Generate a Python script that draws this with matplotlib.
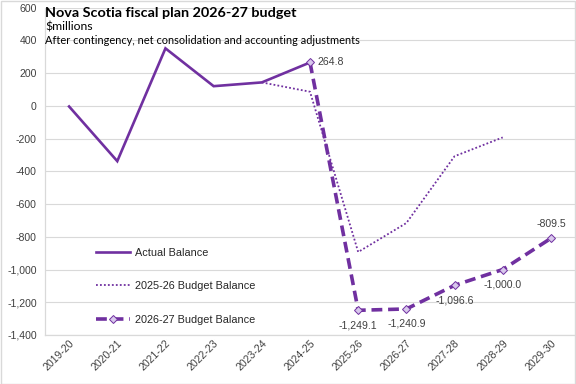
import numpy as np
import matplotlib
matplotlib.use("Agg")
import matplotlib.pyplot as plt
from matplotlib.patches import Rectangle

years = ["2019-20", "2020-21", "2021-22", "2022-23", "2023-24", "2024-25",
         "2025-26", "2026-27", "2027-28", "2028-29", "2029-30"]
actual = [-4, -338, 351, 120, 143, 264.8, None, None, None, None, None]
budget_2526 = [None, None, None, None, 143, 86, -893, -716, -308, -193, None]
budget_2627 = [None, None, None, None, None, 264.8, -1249.1, -1240.9, -1096.6, -1000.0, -809.5]

def arr(v):
    return np.array([np.nan if x is None else x for x in v], dtype=float)

PURPLE = "#7030A0"
GRID = "#d9d9d9"
TXT = "#404040"
TITLE_FONT = ["Lato", "Liberation Sans"]

W, H = 576, 384
fig = plt.figure(figsize=(W / 100, H / 100), dpi=100)
ax = fig.add_axes([45 / W, 1 - 335 / H, 530 / W, (335 - 7.6) / H])

x = np.arange(len(years))
ax.plot(x, arr(budget_2526), color=PURPLE, lw=1.3, linestyle=(0, (1, 1.2)),
        label="2025-26 Budget Balance", zorder=3)
ax.plot(x, arr(actual), color=PURPLE, lw=1.9, label="Actual Balance", zorder=4,
        solid_joinstyle="miter")
ax.plot(x, arr(budget_2627), color=PURPLE, lw=2.6, linestyle=(0, (3, 1.6)),
        marker="D", markersize=4.3, markerfacecolor="#d8c8ec",
        markeredgecolor=PURPLE, markeredgewidth=0.7,
        label="2026-27 Budget Balance", zorder=5)

ax.set_xlim(-0.5, len(years) - 0.5)
ax.set_ylim(-1400, 600)
ax.set_yticks(np.arange(-1400, 601, 200))
ax.yaxis.set_major_formatter(matplotlib.ticker.FuncFormatter(lambda v, p: f"{int(v):,}"))
ax.set_xticks(x)
ax.set_xticklabels(years, rotation=45, ha="right", rotation_mode="anchor")
ax.tick_params(axis="both", length=0, labelsize=7.6, labelcolor=TXT,
               labelfontfamily="Liberation Sans")
ax.tick_params(axis="y", pad=6)
ax.tick_params(axis="x", pad=2)
ax.grid(axis="y", color=GRID, lw=0.8)
ax.set_axisbelow(True)
for s in ["top", "right"]:
    ax.spines[s].set_visible(False)
for s in ["bottom", "left"]:
    ax.spines[s].set_color(GRID)
    ax.spines[s].set_linewidth(0.9)

# data labels
lab = arr(budget_2627)
offsets = {5: (8, 0, "left", "center"), 6: (0, -10, "center", "top"),
           7: (0, -10, "center", "top"), 8: (0, -10, "center", "top"),
           9: (0, -10, "center", "top"), 10: (0, 9, "center", "bottom")}
for i, (dx, dy, ha, va) in offsets.items():
    ax.annotate(f"{lab[i]:,.1f}", (x[i], lab[i]), xytext=(dx, dy),
                textcoords="offset pixels", ha=ha, va=va, fontsize=7.6,
                color=TXT, family="Liberation Sans")

# legend
h, l = ax.get_legend_handles_labels()
order = [1, 0, 2]
leg = fig.legend([h[i] for i in order], [l[i] for i in order],
                 loc="upper left", bbox_to_anchor=(96 / W, 1 - 248 / H),
                 frameon=False, handlelength=3.1,
                 handletextpad=0.5, labelspacing=2.15, borderpad=0,
                 borderaxespad=0, numpoints=1,
                 prop={"family": "Liberation Sans", "size": 7.8})
for t in leg.get_texts():
    t.set_color("#262626")

renderer = fig.canvas.get_renderer()

def fit_text(s, xpx, ypx, width_px, weight, base=10):
    t = fig.text(xpx / W, 1 - ypx / H, s, fontsize=base, weight=weight,
                 family=TITLE_FONT, va="center", ha="left", color="black")
    w = t.get_window_extent(renderer).width
    t.set_fontsize(base * width_px / w)
    return t

fit_text("Nova Scotia fiscal plan 2026-27 budget", 45, 13, 252, "bold")
fit_text("$millions", 45, 27, 48, "normal")
fit_text("After contingency, net consolidation and accounting adjustments", 45, 40, 312, "normal")

fig.patches.append(Rectangle((0.5 / W, 0.5 / H), 1 - 1.5 / W, 1 - 1.5 / H,
                             transform=fig.transFigure, fill=False,
                             edgecolor=GRID, lw=1))
fig.savefig("out.png", dpi=100)
